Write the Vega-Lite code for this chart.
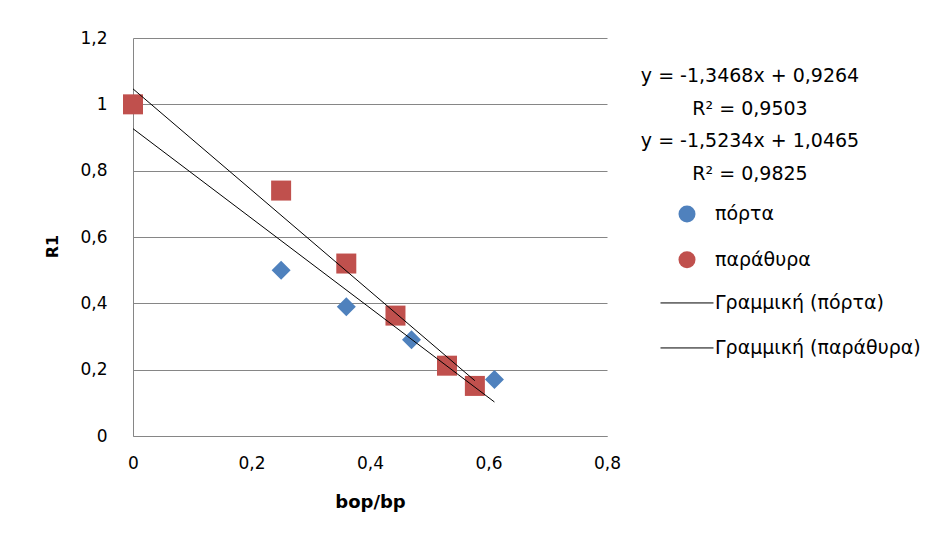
{
  "$schema": "https://vega.github.io/schema/vega-lite/v6.json",
  "width": 474,
  "height": 398,
  "autosize": {"type": "none"},
  "padding": {"left": 133, "top": 38, "right": 345, "bottom": 109},
  "background": "white",
  "data": {
    "values": [
      {"series": "πόρτα", "trend": "Γραμμική (πόρτα)", "x": 0, "y": 1},
      {"series": "πόρτα", "trend": "Γραμμική (πόρτα)", "x": 0.25, "y": 0.5},
      {"series": "πόρτα", "trend": "Γραμμική (πόρτα)", "x": 0.36, "y": 0.39},
      {"series": "πόρτα", "trend": "Γραμμική (πόρτα)", "x": 0.47, "y": 0.29},
      {"series": "πόρτα", "trend": "Γραμμική (πόρτα)", "x": 0.61, "y": 0.17},
      {"series": "παράθυρα", "trend": "Γραμμική (παράθυρα)", "x": 0, "y": 1},
      {"series": "παράθυρα", "trend": "Γραμμική (παράθυρα)", "x": 0.25, "y": 0.74},
      {"series": "παράθυρα", "trend": "Γραμμική (παράθυρα)", "x": 0.36, "y": 0.52},
      {"series": "παράθυρα", "trend": "Γραμμική (παράθυρα)", "x": 0.443, "y": 0.363},
      {"series": "παράθυρα", "trend": "Γραμμική (παράθυρα)", "x": 0.53, "y": 0.212},
      {"series": "παράθυρα", "trend": "Γραμμική (παράθυρα)", "x": 0.577, "y": 0.151}
    ]
  },
  "resolve": {"scale": {"color": "independent"}, "legend": {"color": "independent"}},
  "layer": [
    {
      "mark": {"type": "point", "filled": true, "opacity": 1},
      "encoding": {
        "x": {
          "field": "x", "type": "quantitative",
          "scale": {"domain": [0, 0.8]},
          "axis": {
            "title": "bop/bp", "values": [0, 0.2, 0.4, 0.6, 0.8], "grid": false,
            "labelExpr": "replace(format(datum.value, '~g'), '.', ',')",
            "labelPadding": 19, "titleY": 66, "titleBaseline": "middle"
          }
        },
        "y": {
          "field": "y", "type": "quantitative",
          "scale": {"domain": [0, 1.2]},
          "axis": {
            "title": "R1", "values": [0, 0.2, 0.4, 0.6, 0.8, 1, 1.2], "grid": true,
            "labelExpr": "replace(format(datum.value, '~g'), '.', ',')",
            "labelPadding": 26, "titleX": -81, "titleY": 208, "titleBaseline": "middle", "titleFontSize": 16
          }
        },
        "color": {
          "field": "series", "type": "nominal",
          "scale": {"domain": ["πόρτα", "παράθυρα"], "range": ["#4F81BD", "#C0504D"]},
          "legend": {
            "title": ["y = -1,3468x + 0,9264", "R² = 0,9503", "y = -1,5234x + 1,0465", "R² = 0,9825"],
            "orient": "none", "legendX": 508, "legendY": 29, "padding": 0,
            "titleAnchor": "start", "titleAlign": "center",
            "titleFont": "DejaVu Sans", "titleFontSize": 19, "titleFontWeight": "normal", "titleColor": "black",
            "titleLineHeight": 32.5, "titlePadding": 21, "titleLimit": 400,
            "symbolSize": 289, "symbolStrokeWidth": 0, "symbolOffset": -72.5, "rowPadding": 25.7,
            "labelFont": "DejaVu Sans", "labelFontSize": 19, "labelColor": "black", "labelOffset": 18.5, "labelLimit": 400,
            "encode": {
              "symbols": {
                "shape": {"value": {"expr": "datum.value === 'πόρτα' ? 'diamond' : 'square'"}}
              }
            }
          }
        },
        "shape": {
          "field": "series", "type": "nominal",
          "scale": {"domain": ["πόρτα", "παράθυρα"], "range": ["diamond", "square"]},
          "legend": null
        },
        "size": {
          "field": "series", "type": "ordinal",
          "scale": {"domain": ["πόρτα", "παράθυρα"], "range": [361, 400]},
          "legend": null
        }
      }
    },
    {
      "transform": [{"regression": "y", "on": "x", "groupby": ["series", "trend"]}],
      "mark": {"type": "line", "strokeWidth": 1},
      "encoding": {
        "x": {"field": "x", "type": "quantitative"},
        "y": {"field": "y", "type": "quantitative"},
        "color": {
          "field": "trend", "type": "nominal",
          "scale": {"domain": ["Γραμμική (πόρτα)", "Γραμμική (παράθυρα)"], "range": ["#000000", "#000000"]},
          "legend": {
            "title": null,
            "orient": "none", "legendX": 527, "legendY": 243.6, "padding": 0,
            "symbolType": "stroke", "symbolSize": 2809, "symbolStrokeWidth": 1, "symbolStrokeColor": "black",
            "clipHeight": 42.7, "rowPadding": 2,
            "labelFont": "DejaVu Sans", "labelFontSize": 19, "labelColor": "black", "labelOffset": 1, "labelLimit": 400
          }
        }
      }
    }
  ],
  "config": {
    "view": {"stroke": null},
    "axis": {
      "domainColor": "#868686", "gridColor": "#868686", "gridWidth": 1,
      "ticks": false, "tickSize": 0, "labelFlush": false,
      "labelFont": "DejaVu Sans", "labelFontSize": 17, "labelColor": "black",
      "titleFont": "DejaVu Sans", "titleFontSize": 18, "titleFontWeight": "bold", "titleColor": "black"
    }
  }
}
